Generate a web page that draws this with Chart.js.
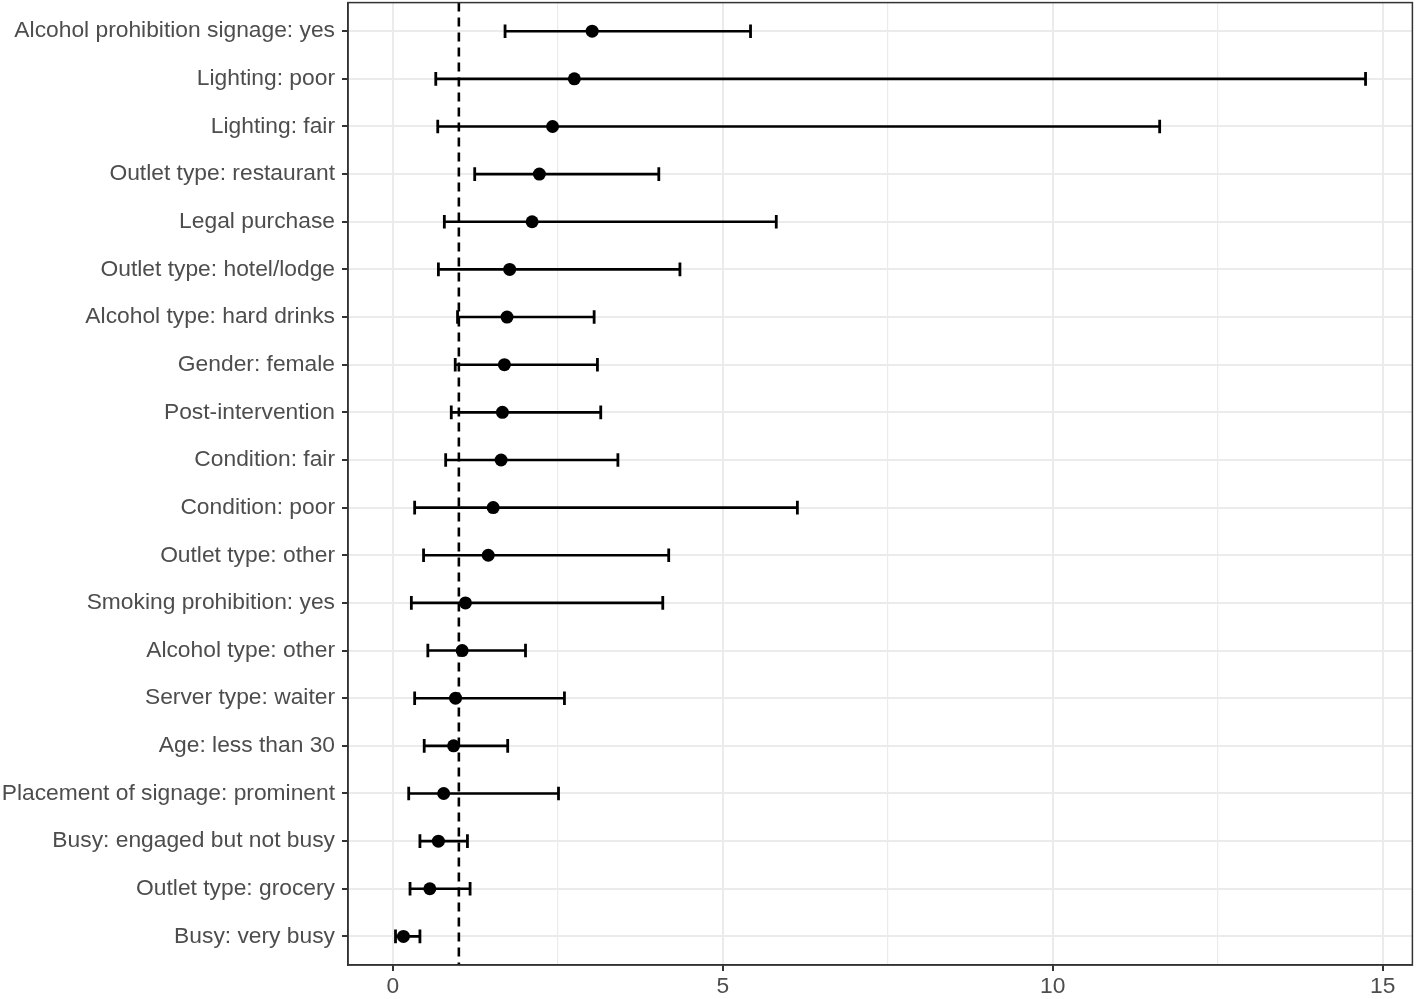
<!DOCTYPE html>
<html>
<head>
<meta charset="utf-8">
<script src="https://cdn.jsdelivr.net/npm/chart.js@4"></script>
<style>
  html, body { margin: 0; padding: 0; background: #ffffff; overflow: hidden; }
  #wrap { position: relative; width: 1418px; height: 999px; overflow: hidden; }
  #c { position: absolute; left: 0; top: -7px; }
</style>
</head>
<body>
<div id="wrap"><canvas id="c" width="1422" height="1006"></canvas></div>
<script>
// ---- Data (top to bottom) ----
const categories = [
  "Alcohol prohibition signage: yes",
  "Lighting: poor",
  "Lighting: fair",
  "Outlet type: restaurant",
  "Legal purchase",
  "Outlet type: hotel/lodge",
  "Alcohol type: hard drinks",
  "Gender: female",
  "Post-intervention",
  "Condition: fair",
  "Condition: poor",
  "Outlet type: other",
  "Smoking prohibition: yes",
  "Alcohol type: other",
  "Server type: waiter",
  "Age: less than 30",
  "Placement of signage: prominent",
  "Busy: engaged but not busy",
  "Outlet type: grocery",
  "Busy: very busy"
];
const estimates = [3.02, 2.75, 2.42, 2.22, 2.11, 1.77, 1.73, 1.69, 1.66, 1.64, 1.52, 1.445, 1.10, 1.05, 0.95, 0.92, 0.77, 0.69, 0.56, 0.16];
const lowerCI   = [1.70, 0.65, 0.68, 1.24, 0.78, 0.69, 0.98, 0.945, 0.885, 0.80, 0.33, 0.465, 0.28, 0.53, 0.33, 0.475, 0.24, 0.41, 0.26, 0.04];
const upperCI   = [5.42, 14.74, 11.62, 4.03, 5.81, 4.35, 3.05, 3.10, 3.15, 3.41, 6.13, 4.18, 4.09, 2.01, 2.60, 1.74, 2.51, 1.13, 1.17, 0.41];
const referenceValue = 1;
const xTickValues = [0, 2.5, 5, 7.5, 10, 12.5, 15];
const xTickLabels = ["0", "", "5", "", "10", "", "15"];

// ---- Build datasets ----
const rowPos = categories.map((_, i) => i + 1);
const datasets = [];

// reference dashed line
datasets.push({
  type: 'line',
  data: [{x: referenceValue, y: 0.4}, {x: referenceValue, y: 20.6}],
  borderColor: '#000000',
  borderWidth: 2.6,
  borderDash: [9, 6],
  pointRadius: 0,
  fill: false,
  order: 5
});

// whiskers
categories.forEach((c, i) => {
  datasets.push({
    type: 'line',
    data: [{x: lowerCI[i], y: rowPos[i]}, {x: upperCI[i], y: rowPos[i]}],
    borderColor: '#000000',
    borderWidth: 2.6,
    pointRadius: 0,
    fill: false,
    order: 4
  });
});

// caps
datasets.push({
  type: 'scatter',
  data: categories.flatMap((c, i) => [{x: lowerCI[i], y: rowPos[i]}, {x: upperCI[i], y: rowPos[i]}]),
  pointStyle: 'line',
  rotation: 90,
  radius: 6.8,
  borderColor: '#000000',
  borderWidth: 2.8,
  backgroundColor: '#000000',
  order: 3
});

// point estimates
datasets.push({
  type: 'scatter',
  data: categories.map((c, i) => ({x: estimates[i], y: rowPos[i]})),
  pointStyle: 'circle',
  radius: 6.5,
  borderWidth: 0,
  backgroundColor: '#000000',
  borderColor: '#000000',
  order: 1
});

const framePlugin = {
  id: 'frame',
  afterDraw(chart) {
    const {ctx, chartArea: a} = chart;
    ctx.save();
    ctx.strokeStyle = '#333333';
    ctx.lineWidth = 1.5;
    ctx.strokeRect(a.left, a.top, a.right - a.left, a.bottom - a.top);
    ctx.restore();
  }
};

const FONT = "'Liberation Sans', Arial, sans-serif";
const zeroPad = () => ({ left: 0, top: 0, right: 0, bottom: 0 });

new Chart(document.getElementById('c'), {
  type: 'scatter',
  data: { datasets },
  plugins: [framePlugin],
  options: {
    responsive: false,
    devicePixelRatio: 1,
    animation: false,
    layout: { padding: { top: 0, right: 0, left: 0, bottom: 0 } },
    plugins: { legend: { display: false }, tooltip: { enabled: false }, title: { display: false } },
    scales: {
      x: {
        type: 'linear',
        position: 'bottom',
        min: -0.68,
        max: 15.45,
        afterBuildTicks(scale) { scale.ticks = xTickValues.map(v => ({ value: v })); },
        afterFit(scale) {
          scale.height = 34;
          scale.paddingLeft = 0; scale.paddingRight = 0; scale.paddingTop = 0; scale.paddingBottom = 0;
          scale.getPadding = zeroPad;
        },
        ticks: {
          autoSkip: false,
          maxRotation: 0,
          padding: 2,
          color: '#4D4D4D',
          font: { family: FONT, size: 22.8 },
          callback: (v, idx) => xTickLabels[xTickValues.indexOf(v)]
        },
        grid: {
          color: '#EBEBEB',
          lineWidth: ctx => (ctx.tick && ctx.tick.value % 5 === 0) ? 2 : 1.2,
          tickColor: ctx => (ctx.tick && ctx.tick.value % 5 === 0) ? '#333333' : 'rgba(0,0,0,0)',
          tickLength: 6,
          tickWidth: 2,
          drawTicks: true
        },
        border: { display: true, color: '#333333', width: 1.5 }
      },
      y: {
        type: 'linear',
        position: 'left',
        reverse: true,
        min: 0.4,
        max: 20.6,
        afterBuildTicks(scale) { scale.ticks = rowPos.map(v => ({ value: v })); },
        afterFit(scale) {
          scale.width = 348;
          scale.paddingLeft = 0; scale.paddingRight = 0; scale.paddingTop = 0; scale.paddingBottom = 0;
          scale.getPadding = zeroPad;
        },
        ticks: {
          autoSkip: false,
          padding: 7,
          color: '#4D4D4D',
          font: { family: FONT, size: 22.8 },
          callback: (v) => categories[v - 1]
        },
        grid: {
          color: '#EBEBEB',
          lineWidth: 2,
          tickColor: '#333333',
          tickLength: 6,
          tickWidth: 2,
          drawTicks: true
        },
        border: { display: true, color: '#333333', width: 1.5 }
      }
    }
  }
});
</script>
</body>
</html>
